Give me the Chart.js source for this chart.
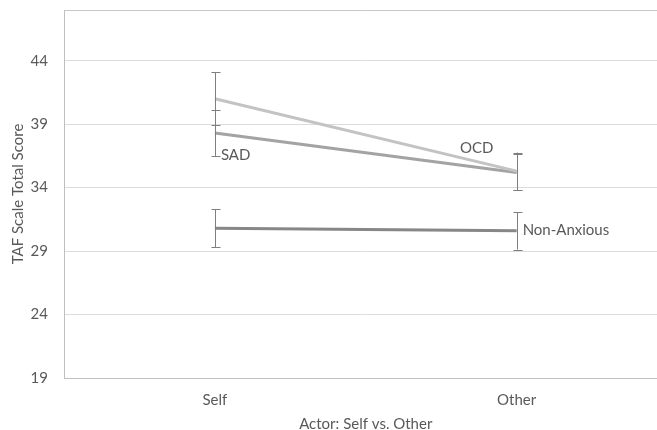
<!DOCTYPE html>
<html>
<head>
<meta charset="utf-8">
<script src="https://cdn.jsdelivr.net/npm/chart.js@4/dist/chart.umd.min.js"></script>
<style>
  html, body { margin: 0; padding: 0; background: #fff; overflow: hidden; }
  #wrap { position: relative; width: 680px; height: 436px; }
</style>
</head>
<body>
<div id="wrap"><canvas id="c" width="680" height="436"></canvas></div>
<script>
// Actor condition on the x axis
const categories = ['Self', 'Other'];

// Mean TAF scale total score per group, with error bar half-widths
const ocdValues = [41.0, 35.3];
const ocdErrors = [2.1, 1.47];
const sadValues = [38.3, 35.2];
const sadErrors = [1.8, 1.42];
const nonAnxiousValues = [30.8, 30.6];
const nonAnxiousErrors = [1.5, 1.48];

// Y axis tick values and range
const yTicks = [19, 24, 29, 34, 39, 44];
const yMin = 19;
const yMax = 48;

const FONT = 'Lato, "Open Sans", sans-serif';
const TEXT = '#595959';

// Vertical error bars with caps, drawn on top of the lines
const errorBars = {
  id: 'errorBars',
  afterDatasetsDraw(chart) {
    const ctx = chart.ctx;
    const y = chart.scales.y;
    ctx.save();
    ctx.strokeStyle = '#7f7f7f';
    ctx.lineWidth = 1;
    chart.data.datasets.forEach((ds, i) => {
      const meta = chart.getDatasetMeta(i);
      meta.data.forEach((pt, j) => {
        const v = ds.data[j], e = ds.errors[j];
        const x = Math.round(pt.x) + 0.5;
        const top = y.getPixelForValue(v + e);
        const bot = y.getPixelForValue(v - e);
        ctx.beginPath();
        ctx.moveTo(x, top); ctx.lineTo(x, bot);
        ctx.moveTo(x - 4, Math.round(top) + 0.5); ctx.lineTo(x + 5, Math.round(top) + 0.5);
        ctx.moveTo(x - 4, Math.round(bot) + 0.5); ctx.lineTo(x + 5, Math.round(bot) + 0.5);
        ctx.stroke();
      });
    });
    ctx.restore();
  }
};

// Series name labels placed next to one point of each line
const seriesLabels = {
  id: 'seriesLabels',
  afterDatasetsDraw(chart) {
    const ctx = chart.ctx;
    ctx.save();
    ctx.font = '15px ' + FONT;
    ctx.fillStyle = TEXT;
    ctx.textBaseline = 'alphabetic';
    chart.data.datasets.forEach((ds, i) => {
      const lab = ds.nameLabel;
      const pt = chart.getDatasetMeta(i).data[lab.index];
      ctx.textAlign = lab.align;
      ctx.fillText(ds.label, pt.x + lab.dx, pt.y + lab.dy);
    });
    ctx.restore();
  }
};

new Chart(document.getElementById('c'), {
  type: 'line',
  data: {
    labels: categories,
    datasets: [
      {
        label: 'OCD', data: ocdValues, errors: ocdErrors,
        borderColor: '#c3c3c3', borderWidth: 3,
        nameLabel: { index: 1, dx: -40, dy: -18, align: 'center' }
      },
      {
        label: 'SAD', data: sadValues, errors: sadErrors,
        borderColor: '#a3a3a3', borderWidth: 3,
        nameLabel: { index: 0, dx: 6, dy: 27, align: 'left' }
      },
      {
        label: 'Non-Anxious', data: nonAnxiousValues, errors: nonAnxiousErrors,
        borderColor: '#878787', borderWidth: 3,
        nameLabel: { index: 1, dx: 6, dy: 4, align: 'left' }
      }
    ]
  },
  options: {
    responsive: false,
    animation: false,
    devicePixelRatio: 1,
    layout: { padding: { top: 10, right: 12.5, left: 0, bottom: 0 } },
    elements: {
      point: { radius: 0, hoverRadius: 0 },
      line: { tension: 0, borderCapStyle: 'butt' }
    },
    plugins: {
      legend: { display: false },
      tooltip: { enabled: false }
    },
    scales: {
      x: {
        offset: true,
        grid: { display: false, drawTicks: false },
        border: { display: true, color: '#bfbfbf', width: 1 },
        ticks: { color: TEXT, font: { family: FONT, size: 15 }, padding: 13 },
        title: {
          display: true, text: 'Actor: Self vs. Other', color: TEXT,
          font: { family: FONT, size: 15 }, padding: { top: 0, bottom: 3 }
        },
        afterFit(s) { s.height = 58; s.paddingLeft = 0; s.paddingRight = 0; }
      },
      y: {
        min: yMin, max: yMax,
        afterBuildTicks(s) {
          s.ticks = yTicks.concat([yMax]).map(v => ({ value: v }));
        },
        grid: {
          drawTicks: false,
          color: ctx => (ctx.tick && ctx.tick.value === yMax) ? '#c6c6c6' : '#dcdcdc',
          lineWidth: 1
        },
        border: { display: true, color: '#bfbfbf', width: 1 },
        ticks: {
          color: TEXT, font: { family: FONT, size: 15 }, padding: 16,
          callback: v => (yTicks.includes(v) ? String(v) : '')
        },
        title: {
          display: true, text: 'TAF Scale Total Score', color: TEXT,
          font: { family: FONT, size: 15 }, padding: { top: 9.5, bottom: 0 }
        },
        afterFit(s) { s.width = 64; s.paddingTop = 0; s.paddingBottom = 0; }
      }
    }
  },
  plugins: [errorBars, seriesLabels]
});
</script>
</body>
</html>
